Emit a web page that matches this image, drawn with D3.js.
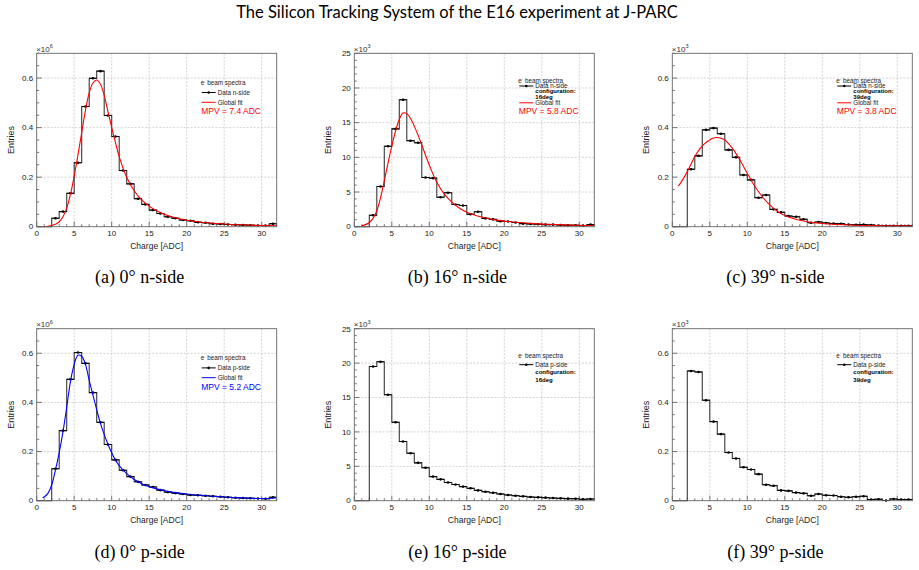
<!DOCTYPE html>
<html lang="en">
<head>
<meta charset="UTF-8">
<script src="https://d3js.org/d3.v7.min.js"></script>
<title>E16 STS charge spectra</title>
<style>
    body { margin: 0; background: #fff; }
    svg text { font-family: "Liberation Sans", Arial, sans-serif; }
</style>
</head>
<body>
<svg id="fig" width="919" height="570"></svg>
<script>
// bin edges of the charge histograms [ADC]
const binEdges = [0,1,2,3,4,5,6,7,8,9,10,11,12,13,14,15,16,17,18,19,20,21,22,23,24,25,26,27,28,29,30,31,32];

// entries per bin (x10^6 for 0 deg, x10^3 for 16 and 39 deg)
const nSide0 = [0,0,0.034,0.061,0.135,0.258,0.485,0.599,0.628,0.449,0.364,0.227,0.173,0.113,0.090,0.067,0.053,0.040,0.034,0.027,0.024,0.018,0.016,0.012,0.011,0.009,0.008,0.007,0.006,0.005,0.005,0.012];
const nSide16 = [0,0,1.65,5.8,11.6,14.1,18.3,12.4,12.1,7.1,7.0,4.25,4.9,3.2,3.05,1.8,2.15,1.2,1.05,0.8,0.75,0.6,0.45,0.4,0.35,0.3,0.3,0.25,0.2,0.2,0.15,0.3];
const nSide39 = [0,0,0.232,0.286,0.391,0.398,0.375,0.310,0.280,0.209,0.189,0.117,0.128,0.070,0.058,0.043,0.040,0.030,0.016,0.019,0.015,0.013,0.012,0.009,0.008,0.009,0.007,0.005,0.004,0.004,0.004,0.004];
const pSide0 = [0,0,0.130,0.285,0.494,0.603,0.559,0.440,0.319,0.229,0.166,0.124,0.098,0.077,0.064,0.056,0.043,0.035,0.031,0.027,0.023,0.022,0.020,0.018,0.016,0.014,0.012,0.011,0.010,0.009,0.008,0.014];
const pSide16 = [0,0,19.5,20.2,15.4,11.4,8.6,6.9,5.5,4.8,3.5,3.1,2.65,2.35,2.05,1.8,1.5,1.3,1.15,0.98,0.83,0.73,0.63,0.54,0.49,0.44,0.39,0.34,0.3,0.28,0.2,0.25];
const pSide39 = [0,0,0.528,0.524,0.409,0.322,0.271,0.196,0.172,0.136,0.127,0.108,0.065,0.061,0.042,0.040,0.033,0.030,0.020,0.027,0.022,0.021,0.016,0.014,0.016,0.018,0.005,0.006,0.001,0.007,0.005,0.005];

// global fit curves: [charge, entries]
const fitN0 = [[1,0],[1.5,0.002],[2,0.005],[2.5,0.01],[3,0.02],[3.5,0.04],[4,0.075],[4.5,0.13],[5,0.205],[5.5,0.29],[6,0.38],[6.5,0.47],[7,0.54],[7.5,0.58],[8,0.592],[8.5,0.575],[9,0.53],[9.5,0.465],[10,0.40],[10.5,0.34],[11,0.283],[12,0.20],[13,0.145],[14,0.108],[15,0.083],[16,0.064],[17,0.05],[18,0.04],[19,0.032],[20,0.026],[22,0.018],[24,0.013],[26,0.009],[28,0.007],[30,0.005],[32,0.004]];
const fitN16 = [[1,0.15],[1.5,0.3],[2,0.6],[2.5,1.2],[3,2.3],[3.5,4.2],[4,6.6],[4.5,9.2],[5,11.6],[5.5,13.8],[6,15.5],[6.5,16.4],[7,16.3],[7.5,15.6],[8,14.5],[8.5,13.2],[9,11.8],[9.5,10.3],[10,8.9],[11,6.4],[12,4.7],[13,3.55],[14,2.7],[15,2.1],[16,1.7],[17,1.4],[18,1.15],[19,0.95],[20,0.8],[22,0.6],[24,0.45],[26,0.35],[28,0.27],[30,0.2],[32,0.15]];
const fitN39 = [[0.8,0.164],[1,0.172],[1.5,0.196],[2,0.222],[2.5,0.253],[3,0.283],[3.5,0.307],[4,0.326],[4.5,0.34],[5,0.35],[5.5,0.358],[6,0.36],[6.5,0.357],[7,0.35],[7.5,0.335],[8,0.317],[8.5,0.295],[9,0.27],[9.5,0.243],[10,0.216],[11,0.163],[12,0.121],[13,0.088],[14,0.062],[15,0.045],[16,0.034],[17,0.026],[18,0.02],[20,0.013],[22,0.009],[25,0.005],[28,0.004],[32,0.003]];
const fitP0 = [[0.8,0.012],[1,0.015],[1.5,0.03],[2,0.064],[2.5,0.125],[3,0.195],[3.5,0.28],[4,0.38],[4.5,0.485],[5,0.555],[5.5,0.592],[6,0.588],[6.5,0.555],[7,0.49],[7.5,0.43],[8,0.37],[8.5,0.315],[9,0.27],[9.5,0.23],[10,0.195],[10.5,0.165],[11,0.143],[12,0.11],[13,0.086],[14,0.069],[15,0.057],[16,0.048],[17,0.041],[18,0.035],[20,0.027],[22,0.022],[25,0.015],[28,0.011],[30,0.009],[31,0.009],[32,0.012]];

// axis ticks
const xTickValues = [0,5,10,15,20,25,30];
const yTicksSmall = [0,0.2,0.4,0.6];
const yTicksLarge = [0,5,10,15,20,25];

const captions = ["(a) 0° n-side", "(b) 16° n-side", "(c) 39° n-side",
                  "(d) 0° p-side", "(e) 16° p-side", "(f) 39° p-side"];
const mpvLabels = ["MPV = 7.4 ADC", "MPV = 5.8 ADC", "MPV = 3.8 ADC", "MPV = 5.2 ADC"];
const configLabels = ["16deg", "39deg"];

const svg = d3.select("#fig");
const W = 240;
const colLeft = [36.7, 354.3, 672.3];
const rowTop = [53.3, 328.7];
const rowH = [173.4, 172];

svg.append("text")
    .attr("x", 457).attr("y", 17.5)
    .attr("text-anchor", "middle")
    .style("font-family", "Lato, 'Noto Sans', sans-serif")
    .style("font-size", "16.5px")
    .text("The Silicon Tracking System of the E16 experiment at J-PARC");

const panels = [
    {col: 0, row: 0, data: nSide0, fit: fitN0, fitColor: "#ff0000", yMax: 0.7, yTicks: yTicksSmall, minor: 14, exp: "6", side: "n", mpv: mpvLabels[0], config: null},
    {col: 1, row: 0, data: nSide16, fit: fitN16, fitColor: "#ff0000", yMax: 25, yTicks: yTicksLarge, minor: 25, exp: "3", side: "n", mpv: mpvLabels[1], config: configLabels[0]},
    {col: 2, row: 0, data: nSide39, fit: fitN39, fitColor: "#ff0000", yMax: 0.7, yTicks: yTicksSmall, minor: 14, exp: "3", side: "n", mpv: mpvLabels[2], config: configLabels[1]},
    {col: 0, row: 1, data: pSide0, fit: fitP0, fitColor: "#0000ff", yMax: 0.7, yTicks: yTicksSmall, minor: 14, exp: "6", side: "p", mpv: mpvLabels[3], config: null},
    {col: 1, row: 1, data: pSide16, fit: null, yMax: 25, yTicks: yTicksLarge, minor: 25, exp: "3", side: "p", mpv: null, config: configLabels[0]},
    {col: 2, row: 1, data: pSide39, fit: null, yMax: 0.7, yTicks: yTicksSmall, minor: 14, exp: "3", side: "p", mpv: null, config: configLabels[1]}
];

const fmt = v => v === 0 ? "0" : (v < 1 ? d3.format(".1f")(v) : String(v));

const drawPanel = (p, i) => {
    const H = rowH[p.row];
    const g = svg.append("g")
        .attr("transform", `translate(${colLeft[p.col]},${rowTop[p.row]})`);

    const x = d3.scaleLinear().domain([0, 32]).range([0, W]);
    const y = d3.scaleLinear().domain([0, p.yMax]).range([H, 0]);

    // grid
    g.append("g").selectAll("line")
        .data(xTickValues.filter(v => v > 0))
        .join("line")
        .attr("x1", d => x(d)).attr("x2", d => x(d))
        .attr("y1", 0).attr("y2", H)
        .attr("stroke", "#c8c8c8").attr("stroke-width", 0.8)
        .attr("stroke-dasharray", "2,1.5");
    g.append("g").selectAll("line")
        .data(p.yTicks.filter(v => v > 0))
        .join("line")
        .attr("x1", 0).attr("x2", W)
        .attr("y1", d => y(d)).attr("y2", d => y(d))
        .attr("stroke", "#c8c8c8").attr("stroke-width", 0.8)
        .attr("stroke-dasharray", "2,1.5");

    // ticks (inward, ROOT style)
    const ticks = g.append("g").attr("stroke", "#555").attr("stroke-width", 0.8);
    ticks.selectAll(".xm").data(x.ticks(32)).join("line")
        .attr("x1", d => x(d)).attr("x2", d => x(d))
        .attr("y1", H).attr("y2", d => xTickValues.includes(d) ? H - 5 : H - 2.5);
    ticks.selectAll(".ym").data(y.ticks(p.minor)).join("line")
        .attr("y1", d => y(d)).attr("y2", d => y(d))
        .attr("x1", 0).attr("x2", d => p.yTicks.includes(d) ? 5 : 2.5);

    // tick labels
    g.append("g").selectAll("text")
        .data(xTickValues).join("text")
        .attr("x", d => x(d)).attr("y", H + 9.5)
        .attr("text-anchor", "middle")
        .style("font-size", "8px").attr("fill", "#222")
        .text(d => d);
    g.append("g").selectAll("text")
        .data(p.yTicks).join("text")
        .attr("x", -3.5).attr("y", d => y(d))
        .attr("dy", "0.35em")
        .attr("text-anchor", "end")
        .style("font-size", "8px").attr("fill", "#222")
        .text(d => fmt(d));

    // exponent
    const ex = g.append("text").attr("x", -0.5).attr("y", -1.8)
        .style("font-size", "8px").attr("fill", "#333");
    ex.append("tspan").text("×10");
    ex.append("tspan").attr("dy", -3.2).style("font-size", "5.5px").text(p.exp);

    // axis titles
    g.append("text")
        .attr("x", W / 2).attr("y", H + 22)
        .attr("text-anchor", "middle")
        .style("font-size", "8.5px").attr("fill", "#222")
        .text("Charge [ADC]");
    g.append("text")
        .attr("transform", `translate(-23,${H / 2}) rotate(-90)`)
        .attr("text-anchor", "middle")
        .style("font-size", "9px").attr("fill", "#222")
        .text("Entries");

    // histogram outline
    const bins = p.data.map((v, k) => ({x0: binEdges[k], x1: binEdges[k + 1], v: v}));
    const stepPts = [[0, 0]];
    bins.forEach(b => { stepPts.push([b.x0, b.v]); stepPts.push([b.x1, b.v]); });
    g.append("path")
        .attr("d", d3.line().x(d => x(d[0])).y(d => y(d[1]))(stepPts))
        .attr("fill", "none").attr("stroke", "#3a3a3a").attr("stroke-width", 1.1);

    // points with horizontal bin-width bars
    const filled = bins.filter(b => b.v > 0);
    g.append("g").selectAll("line").data(filled).join("line")
        .attr("x1", d => x(d.x0)).attr("x2", d => x(d.x1))
        .attr("y1", d => y(d.v)).attr("y2", d => y(d.v))
        .attr("stroke", "#000").attr("stroke-width", 1);
    g.append("g").selectAll("circle").data(filled).join("circle")
        .attr("cx", d => x((d.x0 + d.x1) / 2)).attr("cy", d => y(d.v))
        .attr("r", 1.3).attr("fill", "#000");

    // fit
    if (p.fit) {
        g.append("path")
            .attr("d", d3.line().curve(d3.curveCatmullRom)
                .x(d => x(d[0])).y(d => y(d[1]))(p.fit))
            .attr("fill", "none").attr("stroke", p.fitColor).attr("stroke-width", 1.1);
    }

    // frame
    g.append("rect").attr("width", W).attr("height", H)
        .attr("fill", "none").attr("stroke", "#666").attr("stroke-width", 0.9);

    // legend
    let rows;
    if (p.config && p.fit) rows = {head: 27, data: 32.7, conf: 38, deg: 43.5, fit: 49.5, mpv: 58};
    else if (p.config) rows = {head: 27.5, data: 36, conf: 43.5, deg: 51};
    else rows = {head: 29.5, data: 39.2, fit: 49, mpv: 58};

    const lg = g.append("g").style("font-size", "6.3px");
    const head = lg.append("text").attr("x", 164).attr("y", rows.head).attr("dy", "0.35em").attr("fill", "#222");
    head.append("tspan").text("e");
    head.append("tspan").attr("dy", -2.2).style("font-size", "4px").text("-");
    head.append("tspan").attr("dy", 2.2).text(" beam spectra");

    lg.append("line").attr("x1", 165).attr("x2", 179)
        .attr("y1", rows.data).attr("y2", rows.data)
        .attr("stroke", "#000").attr("stroke-width", 1);
    lg.append("circle").attr("cx", 172).attr("cy", rows.data).attr("r", 1.3).attr("fill", "#000");
    lg.append("text").attr("x", 181).attr("y", rows.data).attr("dy", "0.35em")
        .attr("fill", "#222").text(`Data ${p.side}-side`);

    if (p.config) {
        lg.append("text").attr("x", 181).attr("y", rows.conf).attr("dy", "0.35em")
            .style("font-weight", "bold").style("font-size", "6px").attr("fill", "#000").text("configuration:");
        lg.append("text").attr("x", 181).attr("y", rows.deg).attr("dy", "0.35em")
            .style("font-weight", "bold").style("font-size", "6px").attr("fill", "#000").text(p.config);
    }
    if (p.fit) {
        lg.append("line").attr("x1", 165).attr("x2", 179)
            .attr("y1", rows.fit).attr("y2", rows.fit)
            .attr("stroke", p.fitColor).attr("stroke-width", 1);
        lg.append("text").attr("x", 181).attr("y", rows.fit).attr("dy", "0.35em")
            .attr("fill", "#222").text("Global fit");
        lg.append("text").attr("x", 164.5).attr("y", rows.mpv).attr("dy", "0.35em")
            .style("font-size", "8.5px").attr("fill", p.fitColor).text(p.mpv);
    }

    // caption
    svg.append("text")
        .attr("x", colLeft[p.col] + W / 2 - 17)
        .attr("y", rowTop[p.row] + 229.7)
        .attr("text-anchor", "middle")
        .style("font-family", "'Liberation Serif', 'Times New Roman', serif")
        .style("font-size", "18px")
        .text(captions[i]);
};

panels.forEach(drawPanel);
</script>
</body>
</html>
